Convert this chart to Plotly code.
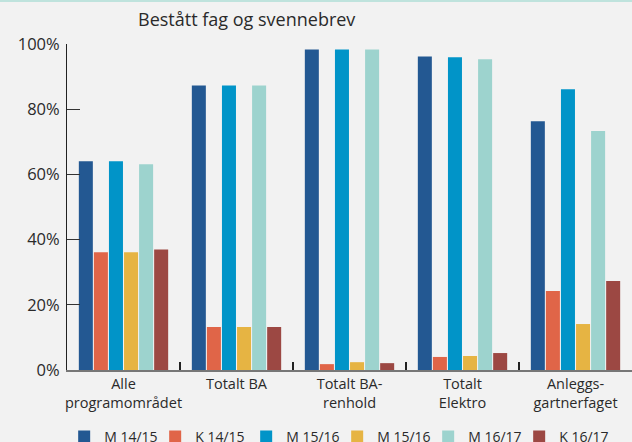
import plotly.graph_objects as go

categories = ["Alle<br>programområdet", "Totalt BA", "Totalt BA-<br>renhold", "Totalt<br>Elektro", "Anleggs-<br>gartnerfaget"]
series_names = ["M 14/15", "K 14/15", "M 15/16", "M 15/16", "M 16/17", "K 16/17"]
m_14_15 = [64.0, 87.3, 98.3, 96.2, 76.3]
k_14_15 = [36.1, 13.2, 1.8, 4.0, 24.2]
m_15_16 = [64.0, 87.3, 98.3, 95.9, 86.1]
k_15_16 = [36.1, 13.2, 2.4, 4.3, 14.1]
m_16_17 = [63.1, 87.3, 98.3, 95.3, 73.3]
k_16_17 = [37.0, 13.2, 2.1, 5.2, 27.3]
colors = ["#235892", "#e06548", "#0194c8", "#e6b443", "#9dd3ce", "#9c4843"]
y_ticks = [0, 20, 40, 60, 80, 100]
y_labels = ["0%", "20%", "40%", "60%", "80%", "100%"]

FONT = "Open Sans"
series = [m_14_15, k_14_15, m_15_16, k_15_16, m_16_17, k_16_17]

fig = go.Figure()
for name, vals, col in zip(series_names, series, colors):
    fig.add_trace(go.Bar(x=categories, y=vals, name=name, marker_color=col,
                         marker_line_width=0))

fig.update_layout(
    width=632, height=442,
    paper_bgcolor="#f2f2f2", plot_bgcolor="#f2f2f2",
    margin=dict(l=67, r=0, t=44, b=72, autoexpand=False),
    barmode="group", bargap=0.2, bargroupgap=0.07,
    font=dict(family=FONT, color="#2a2a2a"),
    title=dict(text="Bestått fag og svennebrev", x=138/632, xanchor="left", xref="container",
               y=1-20/442, yanchor="middle", yref="container", pad=dict(l=0, r=0, t=0, b=0),
               font=dict(family=FONT, size=18, color="#2a2a2a")),
    showlegend=True,
    legend=dict(orientation="h", x=-0.005, xanchor="left", y=-0.205, yanchor="middle",
                font=dict(family=FONT, size=14, color="#2a2a2a"),
                entrywidth=46, bgcolor="rgba(0,0,0,0)", traceorder="normal"),
    xaxis=dict(showline=True, linecolor="#777777", linewidth=2, ticks="inside",
               tickson="boundaries", ticklen=8, tickcolor="#222222", tickwidth=1.5,
               tickangle=0, automargin=False,
               tickfont=dict(family=FONT, size=14.5, color="#2a2a2a"),
               showgrid=False, zeroline=False, fixedrange=True),
    yaxis=dict(range=[0, 100], tickvals=y_ticks, ticktext=y_labels, showline=True,
               linecolor="#222222", linewidth=1, ticks="inside", ticklen=13,
               tickcolor="#333333", tickwidth=1, showgrid=False, zeroline=False,
               automargin=False, fixedrange=True,
               tickfont=dict(family=FONT, size=16.5, color="#2a2a2a"), ticklabelstandoff=3),
)

fig.add_shape(type="rect", xref="paper", yref="paper",
              x0=-67/565, x1=1, y0=1+42/326, y1=1+44/326,
              fillcolor="#bfe3dd", line_width=0, layer="below")

fig.write_html("out.html", config={"displayModeBar": False},
               post_script="document.body.style.margin='0';document.body.style.padding='0';document.body.style.background='#f2f2f2';")
